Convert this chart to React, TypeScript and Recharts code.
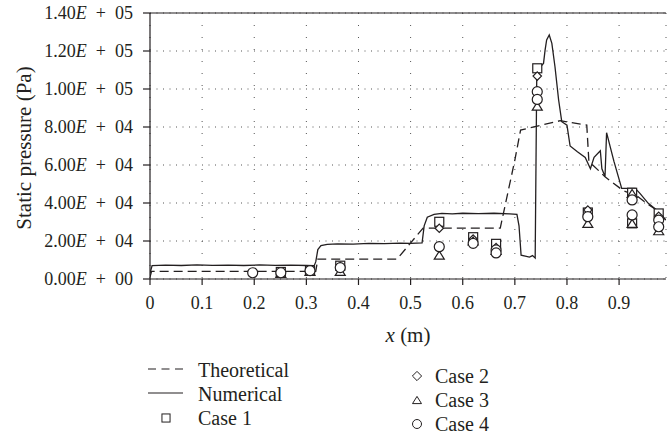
import React from 'react'
import {
  ComposedChart,
  Line,
  Scatter,
  XAxis,
  YAxis,
  CartesianGrid,
  ReferenceLine,
} from 'recharts'

const INK = '#231f20'
const FONT = 'Liberation Serif, DejaVu Serif, serif'
const textStyle = { fontFamily: FONT }

const xTicks = [0, 0.1, 0.2, 0.3, 0.4, 0.5, 0.6, 0.7, 0.8, 0.9]
const yTicks = [0, 20000, 40000, 60000, 80000, 100000, 120000, 140000]

// theoretical static pressure
const theoX = [0, 0.003, 0.318, 0.322, 0.474, 0.524, 0.672, 0.7, 0.711, 0.787, 0.838, 0.842, 0.873, 0.908, 0.934, 0.953, 0.972, 0.99]
const theoY = [1000, 4000, 4000, 10500, 10500, 26800, 26800, 62600, 78400, 83300, 81000, 62000, 53800, 46500, 43800, 39800, 36300, 31000]

// numerical static pressure
const numX = [
  0, 0.004, 0.03, 0.06, 0.09, 0.12, 0.15, 0.18, 0.21, 0.24, 0.27, 0.3, 0.315, 0.318, 0.322, 0.328,
  0.34, 0.36, 0.39, 0.42, 0.45, 0.48, 0.5, 0.522, 0.526, 0.532, 0.545, 0.56, 0.58, 0.6, 0.63, 0.66,
  0.69, 0.704, 0.708, 0.712, 0.72, 0.728, 0.734, 0.739, 0.742, 0.746, 0.75, 0.755, 0.758, 0.761,
  0.766, 0.771, 0.777, 0.784, 0.79, 0.8, 0.806, 0.82, 0.835, 0.845, 0.852, 0.864, 0.867, 0.873,
  0.876, 0.89, 0.905, 0.931, 0.94, 0.956, 0.972, 0.99,
]
const numY = [
  3000, 7000, 7300, 7100, 7400, 7200, 7300, 7100, 7400, 7200, 7300, 7100, 7000, 9000, 15500, 17600,
  18200, 18500, 18400, 18700, 18600, 18900, 18800, 19000, 28000, 32500, 34000, 34500, 34300, 34600, 34400, 34600,
  34300, 34000, 28000, 12500, 12000, 11500, 12300, 11000, 106500, 108000, 112000, 113500, 120500, 125800,
  128400, 124000, 111700, 94200, 82800, 81000, 70000, 67000, 64000, 58000, 64000, 67500, 58000, 54000,
  77000, 62000, 47700, 47700, 45100, 39800, 36300, 31000,
]

// measured cases
const case1X = [0.251, 0.307, 0.365, 0.555, 0.62, 0.664, 0.743, 0.84, 0.925, 0.925, 0.976]
const case1Y = [3700, 4400, 7000, 30100, 22000, 18500, 110900, 35000, 45400, 29300, 34500]
const case2X = [0.251, 0.307, 0.365, 0.555, 0.62, 0.664, 0.743, 0.84, 0.925, 0.976]
const case2Y = [3500, 4200, 6500, 26700, 21000, 16500, 106800, 36300, 43300, 33000]
const case3X = [0.251, 0.307, 0.365, 0.555, 0.62, 0.664, 0.743, 0.84, 0.925, 0.925, 0.976]
const case3Y = [3000, 4000, 4000, 12600, 20000, 15000, 91000, 29300, 45000, 29300, 25400]
const case4X = [0.197, 0.251, 0.307, 0.365, 0.555, 0.62, 0.664, 0.664, 0.743, 0.743, 0.84, 0.925, 0.925, 0.976, 0.976]
const case4Y = [3300, 3300, 4400, 6000, 17000, 18800, 15300, 13700, 98600, 94500, 32800, 41600, 33700, 31000, 27500]

const zip = (xs: number[], ys: number[]) => xs.map((x, i) => ({ x, y: ys[i] }))

const theoData = zip(theoX, theoY)
const numData = zip(numX, numY)
const case1 = zip(case1X, case1Y)
const case2 = zip(case2X, case2Y)
const case3 = zip(case3X, case3Y)
const case4 = zip(case4X, case4Y)

type Kind = 'square' | 'diamond' | 'triangle' | 'circle'

function Marker({ kind, cx, cy, s = 1, w = 1.2 }: { kind: Kind; cx: number; cy: number; s?: number; w?: number }) {
  const common = { fill: '#fff', stroke: INK, strokeWidth: w }
  if (kind === 'square') {
    const h = 4.5 * s
    return <rect x={cx - h} y={cy - h} width={2 * h} height={2 * h} {...common} />
  }
  if (kind === 'diamond') {
    const h = 4.2 * s
    return <polygon points={`${cx},${cy - h} ${cx + h},${cy} ${cx},${cy + h} ${cx - h},${cy}`} {...common} />
  }
  if (kind === 'triangle') {
    const hw = 5 * s
    const h = 4 * s
    return <polygon points={`${cx},${cy - h} ${cx + hw},${cy + h} ${cx - hw},${cy + h}`} {...common} />
  }
  return <circle cx={cx} cy={cy} r={5 * s} {...common} />
}

const shapeOf = (kind: Kind) => (p: any) => <Marker kind={kind} cx={p.cx} cy={p.cy} />

function YTick({ x, y, payload }: any) {
  const v: number = payload.value
  const exp = v === 0 ? 0 : Math.floor(Math.log10(v))
  const mant = v === 0 ? 0 : v / Math.pow(10, exp)
  return (
    <text x={x} y={y} dy={6} textAnchor="end" style={textStyle} fontSize={18} fill={INK}>
      {mant.toFixed(2)}
      <tspan fontStyle="italic">E</tspan>
      {'\u2002+\u2002' + String(exp).padStart(2, '0')}
    </text>
  )
}

function XTick({ x, y, payload }: any) {
  return (
    <text x={x} y={y} dy={20} textAnchor="middle" style={textStyle} fontSize={18} fill={INK}>
      {String(payload.value)}
    </text>
  )
}

function Legend() {
  const t = { style: textStyle, fontSize: 20, fill: INK }
  return (
    <svg width={667} height={436} style={{ position: 'absolute', left: 0, top: 0, pointerEvents: 'none' }}>
      <line x1={148} x2={183} y1={369} y2={369} stroke={INK} strokeWidth={1.2} strokeDasharray="8 5.5" />
      <text x={198} y={377} {...t}>Theoretical</text>
      <line x1={148} x2={183} y1={393} y2={393} stroke={INK} strokeWidth={1.2} />
      <text x={198} y={401} {...t}>Numerical</text>
      <Marker kind="square" cx={166} cy={418} s={0.9} w={1} />
      <text x={198} y={424.5} {...t}>Case 1</text>
      <Marker kind="diamond" cx={417} cy={376} s={1.1} w={1} />
      <text x={435} y={383} {...t}>Case 2</text>
      <Marker kind="triangle" cx={417} cy={400} s={0.9} w={1} />
      <text x={435} y={406.5} {...t}>Case 3</text>
      <Marker kind="circle" cx={417} cy={424} s={0.9} w={1} />
      <text x={435} y={431} {...t}>Case 4</text>
    </svg>
  )
}

export default function App() {
  return (
    <div style={{ position: 'absolute', left: 0, top: 0, width: 667, height: 436, overflow: 'hidden', background: '#fff' }}>
      <ComposedChart width={667} height={436} margin={{ top: 13, right: 1, left: 0, bottom: 0 }}>
        <CartesianGrid vertical={false} stroke="#555" strokeDasharray="1 5.5" />
        <CartesianGrid horizontal={false} stroke="#555" strokeDasharray="1 11" />
        <XAxis
          dataKey="x"
          type="number"
          domain={[0, 0.99]}
          ticks={xTicks}
          allowDataOverflow
          height={157}
          tickSize={6}
          tickMargin={4}
          axisLine={{ stroke: INK, strokeWidth: 1.2 }}
          tickLine={{ stroke: INK, strokeWidth: 1.2 }}
          tick={<XTick />}
          label={(p: any) => {
            const vb = p.viewBox
            return (
              <text x={vb.x + vb.width / 2} y={vb.y + 63} textAnchor="middle" style={textStyle} fontSize={21} fill={INK}>
                <tspan fontStyle="italic">x</tspan> (m)
              </text>
            )
          }}
        />
        <YAxis
          type="number"
          domain={[0, 140000]}
          ticks={yTicks}
          width={150}
          tickSize={7}
          tickMargin={10}
          axisLine={{ stroke: INK, strokeWidth: 1.2 }}
          tickLine={{ stroke: INK, strokeWidth: 1.2 }}
          tick={<YTick />}
          label={(p: any) => {
            const vb = p.viewBox
            const cy = vb.y + vb.height / 2 + 2
            return (
              <text x={31} y={cy} transform={`rotate(-90 31 ${cy})`} textAnchor="middle" style={textStyle} fontSize={21} fill={INK}>
                Static pressure (Pa)
              </text>
            )
          }}
        />
        <ReferenceLine y={140000} stroke={INK} strokeWidth={1.2} />
        <Line data={theoData} dataKey="y" type="linear" stroke={INK} strokeWidth={1.3} strokeDasharray="9 5" dot={false} activeDot={false} isAnimationActive={false} />
        <Line data={numData} dataKey="y" type="linear" stroke={INK} strokeWidth={1.3} dot={false} activeDot={false} isAnimationActive={false} />
        <Scatter data={case1} dataKey="y" shape={shapeOf('square')} isAnimationActive={false} />
        <Scatter data={case2} dataKey="y" shape={shapeOf('diamond')} isAnimationActive={false} />
        <Scatter data={case3} dataKey="y" shape={shapeOf('triangle')} isAnimationActive={false} />
        <Scatter data={case4} dataKey="y" shape={shapeOf('circle')} isAnimationActive={false} />
      </ComposedChart>
      <Legend />
    </div>
  )
}
